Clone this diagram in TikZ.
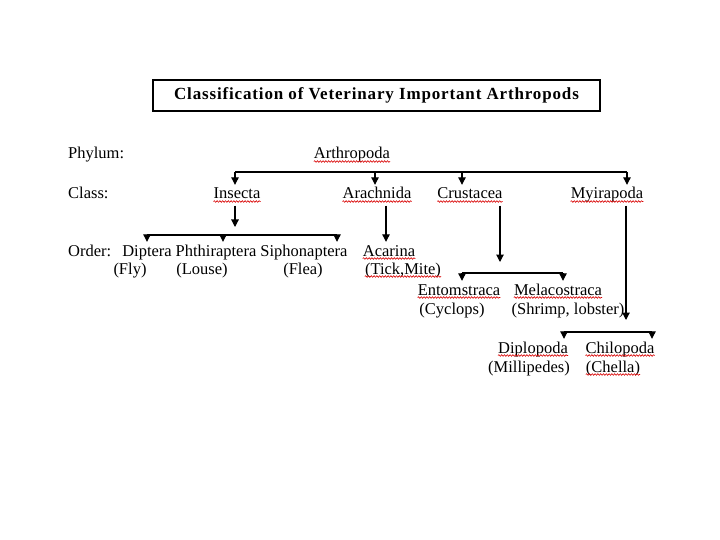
\documentclass[tikz,border=0pt]{standalone}
\usepackage{fontspec}
\setmainfont{Liberation Serif}
\usepackage{tikz}
\usetikzlibrary{arrows.meta,positioning,decorations.pathmorphing}

\begin{document}
\begin{tikzpicture}[x=1pt, y=-1pt, font=\fontsize{16.5}{19}\selectfont,
  taxon/.style={inner xsep=0pt, inner ysep=3pt, text height=11pt, text depth=3.5pt, anchor=base},
  rank/.style={taxon, anchor=base west},
  arr/.style={line width=1.1pt, -{Triangle[width=7.5pt, length=7.5pt]}},
  bar/.style={line width=1.1pt},
  squig/.style={red!85!black, line width=0.6pt, decorate, decoration={snake, amplitude=0.8pt, segment length=2.8pt}}]
\useasboundingbox[fill=white] (0,0) rectangle (720,540);
% title
\node[draw, line width=1.2pt, minimum width=447pt, minimum height=31pt, inner sep=0pt, font=\fontsize{17}{20}\selectfont\bfseries\addfontfeature{LetterSpace=5}] (title) at (376.5,95.5) {Classification of Veterinary Important Arthropods};
% rank labels
\node[rank] (phy) at (68,159) {Phylum:};
\node[rank] (cls) at (68,199) {Class:};
\node[rank] (ord) at (68,256) {Order:};
% taxa
\node[taxon] (arth) at (352,159) {Arthropoda};
\node[taxon] (ins) at (237,199) {Insecta};
\node[taxon] (arach) at (377,199) {Arachnida};
\node[taxon] (crus) at (470,199) {Crustacea};
\node[taxon] (myr) at (607,199) {Myirapoda};
\node[taxon] (dip) at (147,256) {Diptera};
\node[taxon] (phth) at (216,256) {Phthiraptera};
\node[taxon] (siph) at (304,256) {Siphonaptera};
\node[taxon] (aca) at (389,256) {Acarina};
\node[taxon] (fly) at (130,274) {(Fly)};
\node[taxon] (louse) at (202,274) {(Louse)};
\node[taxon] (flea) at (303,274) {(Flea)};
\node[taxon] (tick) at (403,274) {(Tick,Mite)};
\node[taxon] (ento) at (459,295) {Entomstraca};
\node[taxon] (mela) at (558,295) {Melacostraca};
\node[taxon] (cyc) at (452,314) {(Cyclops)};
\node[taxon] (shrimp) at (568,314) {(Shrimp, lobster)};
\node[taxon] (dipl) at (533,353) {Diplopoda};
\node[taxon] (chil) at (620,353) {Chilopoda};
\node[taxon] (mill) at (529,372) {(Millipedes)};
\node[taxon] (chel) at (613,372) {(Chella)};
% bar ends and tips
\coordinate (cb-l) at (235,172); \coordinate (cb-r) at (627,172);
\coordinate (cb-a) at (375,172); \coordinate (cb-c) at (462,172);
\coordinate (ob-l) at (147,235); \coordinate (ob-r) at (337,235); \coordinate (ob-m) at (223,235);
\coordinate (ins-tip) at (235,227);
\coordinate (crus-tip) at (500,262); \coordinate (sb-l) at (462,273); \coordinate (sb-r) at (563,273);
\coordinate (myr-tip) at (626,320); \coordinate (mb-l) at (564,332); \coordinate (mb-r) at (652,332);
% phylum -> class
\draw[bar] (cb-l) -- (cb-r);
\draw[arr] (cb-l) -- (cb-l |- ins.north);
\draw[arr] (cb-a) -- (cb-a |- arach.north);
\draw[arr] (cb-c) -- (cb-c |- crus.north);
\draw[arr] (cb-r) -- (cb-r |- myr.north);
% insecta
\draw[arr] (ins.south -| ins-tip) -- (ins-tip);
\draw[bar] (ob-l) -- (ob-r);
\draw[arr] (ob-l) -- (ob-l |- dip.north);
\draw[arr] (ob-m) -- (ob-m |- phth.north);
\draw[arr] (ob-r) -- (ob-r |- siph.north);
% arachnida
\draw[arr] ([xshift=9pt]arach.south) -- ([xshift=9pt]arach.south |- aca.north);
% crustacea
\draw[arr] (crus.south -| crus-tip) -- (crus-tip);
\draw[bar] (sb-l) -- (sb-r);
\draw[arr] (sb-l) -- (sb-l |- ento.north);
\draw[arr] (sb-r) -- (sb-r |- mela.north);
% myriapoda
\draw[arr] (myr.south -| myr-tip) -- (myr-tip);
\draw[bar] (mb-l) -- (mb-r);
\draw[arr] (mb-l) -- (mb-l |- dipl.north);
\draw[arr] (mb-r) -- (mb-r |- chil.north);
% spell-check marks
\foreach \n in {arth,ins,arach,crus,myr,aca,tick,ento,mela,dipl,chil,chel}
  \draw[squig] ([yshift=-2.5pt]\n.base west) -- ([yshift=-2.5pt]\n.base east);
\end{tikzpicture}
\end{document}
